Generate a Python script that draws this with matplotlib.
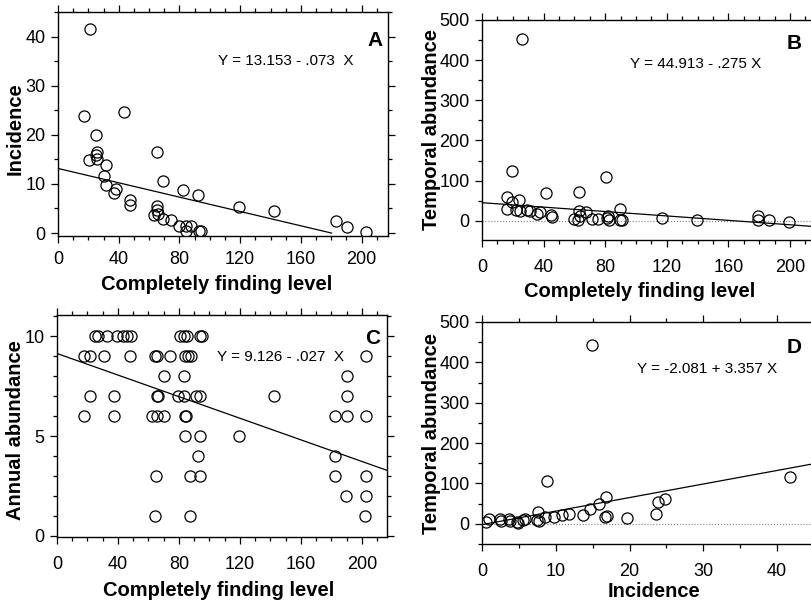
import matplotlib.pyplot as plt
from matplotlib.ticker import MultipleLocator

plt.rcParams['font.family'] = ['Liberation Sans', 'DejaVu Sans']

# panel A: completely finding level vs incidence
a_x = [21.3, 17.1, 43.3, 25.0, 26.0, 25.3, 20.4, 26.0, 31.9, 30.1, 31.9, 38.1, 37.1,
       47.3, 47.3, 65.5, 69.4, 82.2, 92.5, 65.0, 65.0, 63.1, 66.1, 69.4, 74.3, 79.6,
       84.2, 84.6, 87.5, 92.8, 94.5, 119.3, 142.6, 182.9, 190.1, 202.9]
a_y = [41.6, 23.9, 24.7, 19.9, 16.6, 15.9, 14.9, 15.0, 13.9, 11.7, 9.7, 8.9, 8.1,
       6.8, 5.8, 16.6, 10.6, 8.7, 7.7, 5.6, 4.7, 3.7, 3.9, 2.9, 2.7, 1.5,
       1.5, 0.5, 1.5, 0.5, 0.5, 5.4, 4.5, 2.4, 1.2, 0.2]

# panel B: completely finding level vs temporal abundance
b_x = [25.7, 19.7, 80.2, 41.5, 63.1, 16.0, 24.0, 19.7, 16.0, 21.9, 24.6, 29.0, 31.1,
       35.9, 37.6, 44.6, 45.2, 63.1, 67.4, 59.7, 62.5, 63.6, 71.1, 75.4, 80.9, 82.6,
       81.9, 89.9, 91.2, 89.5, 116.9, 139.6, 179.2, 179.2, 186.1, 199.1]
b_y = [452, 125, 108, 69, 71, 60, 52, 46, 29, 26, 23, 27, 23,
       17, 21, 15, 9, 23, 21, 5, 2, 11, 5, 5, 7, 2,
       11, 30, 2, 2, 7, 2, 12, 1, 2, -4]

# panel C: completely finding level vs annual abundance
c_x = [25.1, 26.7, 32.8, 39.3, 43.3, 45.9, 48.7, 80.4, 83.1, 85.2, 93.6, 95.1,
       17.5, 21.4, 30.6, 47.7, 64.5, 65.6, 74.3, 84.2, 85.7, 87.9, 202.8,
       69.9, 83.5, 190.2,
       21.4, 37.6, 65.6, 66.2, 79.1, 83.1, 91.4, 94.0, 142.5, 190.2,
       17.5, 37.6, 62.3, 65.6, 69.9, 84.2, 84.8, 182.1, 190.2, 202.8,
       83.7, 94.0, 119.3,
       92.5, 182.1,
       65.1, 87.0, 94.0, 182.1, 202.4,
       189.5, 202.4,
       64.5, 87.0, 202.0]
c_y = [10] * 12 + [9] * 11 + [8] * 3 + [7] * 10 + [6] * 10 + [5] * 3 + [4] * 2 + \
      [3] * 5 + [2] * 2 + [1] * 3

# panel D: incidence vs temporal abundance
d_x = [14.9, 8.8, 41.8, 16.8, 24.8, 23.8, 15.8, 14.7, 23.6, 13.7, 11.8, 10.8, 9.7,
       8.5, 7.6, 7.4, 16.7, 16.9, 19.6, 0.6, 0.9, 2.4, 2.6, 3.6, 3.8, 4.7, 4.9,
       5.6, 5.8, 7.7]
d_y = [444, 106, 117, 66, 61, 54, 50, 37, 25, 21, 25, 21, 17,
       17, 29, 9, 17, 19, 15, 4, 11, 13, 6, 13, 6, 4, 1,
       9, 12, 7]

fits = {'A': (13.153, -0.073), 'B': (44.913, -0.275),
        'C': (9.126, -0.027), 'D': (-2.081, 3.357)}
eqs = {'A': 'Y = 13.153 - .073  X', 'B': 'Y = 44.913 - .275 X',
       'C': 'Y = 9.126 - .027  X', 'D': 'Y = -2.081 + 3.357 X'}

W, H = 811, 603
fig = plt.figure(figsize=(W / 100, H / 100), dpi=100)


def box(l, t, r, b):
    return fig.add_axes([l / W, 1 - b / H, (r - l) / W, (b - t) / H])


def style(ax, xmaj, xmin, ymaj, ymin, right=True, xpad=9):
    ax.xaxis.set_major_locator(MultipleLocator(xmaj))
    ax.xaxis.set_minor_locator(MultipleLocator(xmin))
    ax.yaxis.set_major_locator(MultipleLocator(ymaj))
    ax.yaxis.set_minor_locator(MultipleLocator(ymin))
    ax.tick_params(which='both', direction='out', top=True, right=right,
                   labelsize=13, width=0.9)
    ax.tick_params(axis='x', which='major', length=5, pad=xpad)
    ax.tick_params(axis='y', which='major', length=5, pad=4)
    ax.tick_params(which='minor', length=3)
    for s in ax.spines.values():
        s.set_linewidth(1.0)
    if not right:
        ax.spines['right'].set_visible(False)


def dots(ax, x, y):
    ax.plot(x, y, 'o', mfc='none', mec='black', ms=8, mew=0.9, ls='none')


def titles(ax, xl, yl, xpos, ypos):
    ax.set_xlabel(xl, fontsize=14.5, fontweight='bold')
    ax.set_ylabel(yl, fontsize=14.5, fontweight='bold')
    ax.xaxis.set_label_coords(*xpos)
    ax.yaxis.set_label_coords(*ypos)
    ax.xaxis.label.set_verticalalignment('center')
    ax.yaxis.label.set_verticalalignment('center')


def label(ax, key, ex, ey, lx, ly):
    ax.text(ex, ey, eqs[key], transform=ax.transAxes, ha='center', va='center',
            fontsize=11)
    ax.text(lx, ly, key, transform=ax.transAxes, ha='center', va='center',
            fontsize=15, fontweight='bold')


# A
ax = box(58, 12, 388, 236)
ax.set_xlim(0, 217.4)
ax.set_ylim(-0.6, 45)
dots(ax, a_x, a_y)
a0, a1 = fits['A']
ax.plot([0, -a0 / a1], [a0, 0], color='black', lw=0.9)
style(ax, 40, 10, 10, 5, xpad=6)
titles(ax, 'Completely finding level', 'Incidence', (0.48, -0.218), (-0.13, 0.48))
label(ax, 'A', 0.69, 0.78, 0.96, 0.875)

# B
ax = box(482, 20, 811, 240)
ax.set_xlim(0, 213.6)
ax.set_ylim(-48, 500)
ax.axhline(0, color='grey', lw=0.8, ls=':')
dots(ax, b_x, b_y)
b0, b1 = fits['B']
ax.plot([0, 213.6], [b0, b0 + b1 * 213.6], color='black', lw=0.9)
style(ax, 40, 10, 100, 50, right=False)
titles(ax, 'Completely finding level', 'Temporal abundance', (0.48, -0.236), (-0.152, 0.5))
label(ax, 'B', 0.65, 0.80, 0.95, 0.895)

# C
ax = box(57, 315, 387, 537)
ax.set_xlim(0, 216.4)
ax.set_ylim(-0.05, 11.05)
dots(ax, c_x, c_y)
c0, c1 = fits['C']
ax.plot([0, 216.4], [c0, c0 + c1 * 216.4], color='black', lw=0.9)
style(ax, 40, 10, 5, 1)
titles(ax, 'Completely finding level', 'Annual abundance', (0.49, -0.239), (-0.127, 0.48))
label(ax, 'C', 0.676, 0.81, 0.958, 0.896)

# D
ax = box(482, 322, 811, 544)
ax.set_xlim(0, 44.6)
ax.set_ylim(-50, 500)
ax.axhline(0, color='grey', lw=0.8, ls=':')
dots(ax, d_x, d_y)
d0, d1 = fits['D']
ax.plot([0, 44.6], [d0, d0 + d1 * 44.6], color='black', lw=0.9)
style(ax, 10, 5, 100, 50, right=False)
titles(ax, 'Incidence', 'Temporal abundance', (0.523, -0.216), (-0.152, 0.5))
label(ax, 'D', 0.684, 0.79, 0.95, 0.887)

fig.savefig('out.png', dpi=100)
